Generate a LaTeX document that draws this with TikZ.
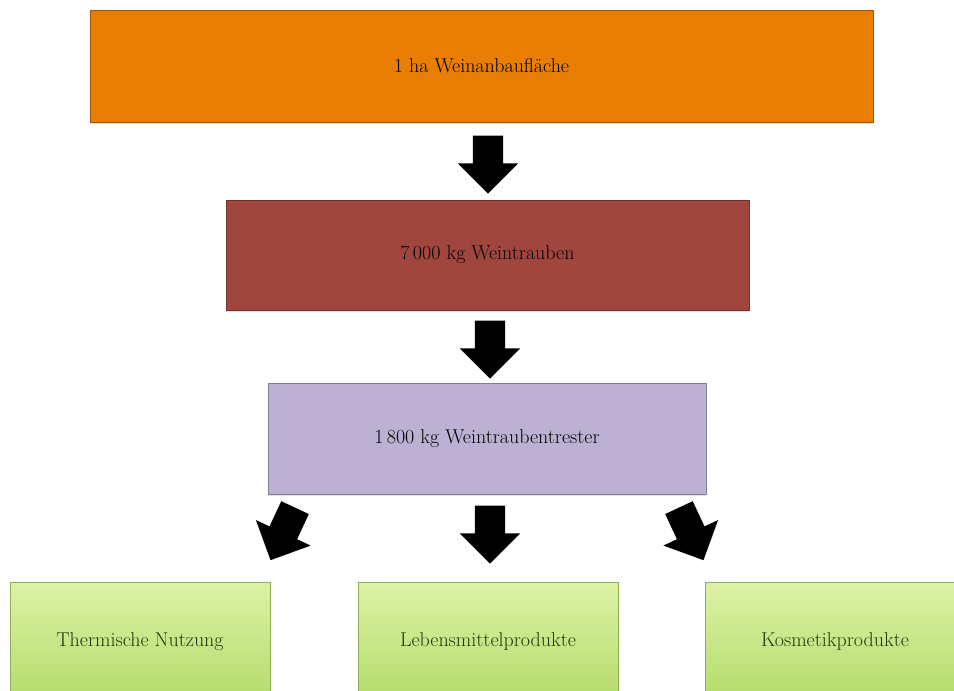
\documentclass[tikz,border=0pt]{standalone}
\usetikzlibrary{shapes.arrows,shadows}
\definecolor{hafarbe}{HTML}{E87E04}
\definecolor{traubenfarbe}{HTML}{A0463E}
\definecolor{tresterfarbe}{HTML}{BCB0D3}
\definecolor{gruenoben}{HTML}{DCF2A6}
\definecolor{gruenunten}{HTML}{B4DB6A}
\definecolor{gruenschrift}{HTML}{1E3A0A}
\begin{document}
\begin{tikzpicture}[x=1pt,y=-1pt,
  stufe/.style={rectangle,draw=#1!70!black,fill=#1,line width=0.6pt,
    drop shadow={opacity=0.25,shadow xshift=0pt,shadow yshift=-2pt},
    font=\fontsize{20}{24}\selectfont,text=black},
  produkt/.style={rectangle,draw=gruenunten!80!black,line width=0.6pt,
    top color=gruenoben,bottom color=gruenunten,
    minimum width=260pt,minimum height=120pt,
    font=\fontsize{20}{24}\selectfont,text=gruenschrift},
  pfeil/.style={single arrow,fill=black,inner xsep=0pt,inner ysep=15pt,
    minimum height=58pt,minimum width=60pt,single arrow head extend=15pt,
    rotate=#1}]
\useasboundingbox[fill=white] (0,0) rectangle (954,691);
\node[stufe=hafarbe,minimum width=783pt,minimum height=112pt] (flaeche) at (481.5,66) {1 ha Weinanbaufläche};
\node[stufe=traubenfarbe,minimum width=523pt,minimum height=110pt] (trauben) at (487.5,255) {7\,000 kg Weintrauben};
\node[stufe=tresterfarbe,minimum width=438pt,minimum height=111pt] (trester) at (487,438.5) {1\,800 kg Weintraubentrester};
\node[produkt] (thermisch) at (140,642) {Thermische Nutzung};
\node[produkt] (lebensmittel) at (488,642) {Lebensmittelprodukte};
\node[produkt] (kosmetik) at (835,642) {Kosmetikprodukte};
% Pfeile
\node[pfeil=-90] (p1) at (488,157) {};
\node[pfeil=-90] (p2) at (490,342) {};
\node[pfeil=-115] (p3) at (286,527) {};
\node[pfeil=-90] (p4) at (490,527) {};
\node[pfeil=-65] (p5) at (688,527) {};
\end{tikzpicture}
\end{document}
